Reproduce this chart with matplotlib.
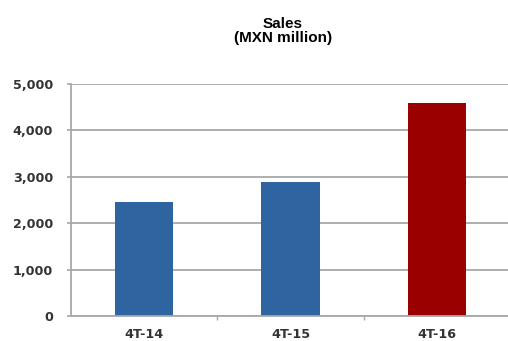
import numpy as np
from matplotlib import pyplot as plt

# quarterly sales, MXN million
periods = ['4T-14', '4T-15', '4T-16']
sales = [2447, 2879, 4594]
bar_colors = ['#2E64A0', '#2E64A0', '#9B0000']
yticks = [0, 1000, 2000, 3000, 4000, 5000]

plt.rcParams['font.family'] = ['DejaVu Sans']

fig = plt.figure(figsize=(5.08, 3.41), dpi=100)
ax = fig.add_axes([71/508, 1 - 316/341, (510 - 71)/508, (316 - 84)/341])
ax.set_axisbelow(True)

x = np.arange(len(periods))
ax.bar(x, sales, width=0.40, color=bar_colors)

ax.set_xlim(-0.5, 2.5)
ax.set_ylim(0, 5000)
ax.set_yticks(yticks)
ax.set_yticklabels(['{:,}'.format(v) for v in yticks], fontsize=9.2, fontweight='bold', color='#333333')
ax.set_xticks(x)
ax.set_xticklabels(periods, fontsize=9.2, fontweight='bold', color='#333333')
ax.set_xticks([0.5, 1.5], minor=True)

ax.yaxis.grid(True, color='#A8A8A8', lw=1.3)
ax.tick_params(axis='y', length=3, width=1.2, color='#A8A8A8', pad=10)
ax.tick_params(axis='x', which='major', length=0, pad=9)
ax.tick_params(axis='x', which='minor', length=3, width=1, color='#A8A8A8')

for side in ['top', 'right']:
    ax.spines[side].set_visible(False)
for side in ['left', 'bottom']:
    ax.spines[side].set_color('#A8A8A8')
    ax.spines[side].set_linewidth(1.3)

fig.text(283/508, 1 - 31/341, 'Sales\n(MXN million)', ha='center', va='center',
         fontsize=11, fontweight='bold', family='Liberation Sans', linespacing=1.08)

fig.savefig('out.png', dpi=100)
